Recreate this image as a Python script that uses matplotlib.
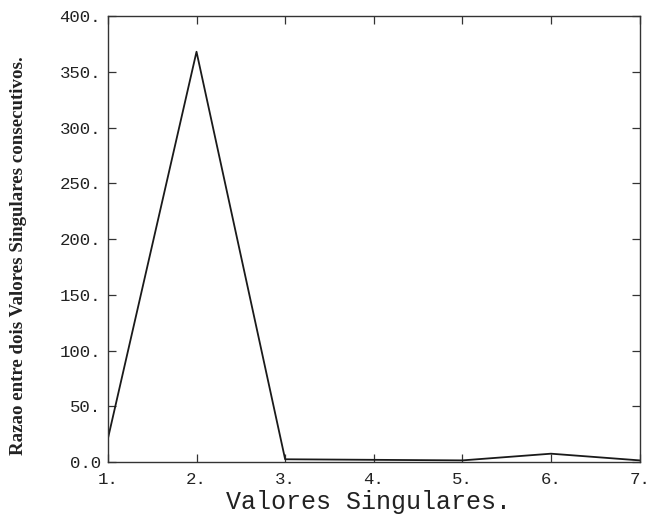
import matplotlib
matplotlib.use("Agg")
import matplotlib.pyplot as plt

# Ratio between consecutive singular values
indices = [1, 2, 3, 4, 5, 6, 7]
ratios = [21.0, 368.0, 2.5, 2.0, 1.5, 7.5, 1.5]

x_ticks = [1, 2, 3, 4, 5, 6, 7]
x_tick_labels = ["1.", "2.", "3.", "4.", "5.", "6.", "7."]
y_ticks = [0, 50, 100, 150, 200, 250, 300, 350, 400]
y_tick_labels = ["0.0", "50.", "100.", "150.", "200.", "250.", "300.", "350.", "400."]

fig = plt.figure(figsize=(6.5, 5.18), dpi=100)
ax = fig.add_axes([0.166, 0.108, 0.818, 0.861])

ax.plot(indices, ratios, color="#1a1a1a", linewidth=1.3)

ax.set_xlim(1, 7)
ax.set_ylim(0, 400)
ax.set_xticks(x_ticks)
ax.set_xticklabels(x_tick_labels, fontfamily="Liberation Mono", fontsize=12.5, color="#222222")
ax.set_yticks(y_ticks)
ax.set_yticklabels(y_tick_labels, fontfamily="Liberation Mono", fontsize=12.5, color="#222222")

ax.tick_params(direction="in", length=6, width=0.9, color="#333333",
               top=True, right=True)
ax.tick_params(axis="x", pad=7)
ax.tick_params(axis="y", pad=5)

for s in ax.spines.values():
    s.set_linewidth(1.0)
    s.set_color("#333333")

ax.set_xlabel("Valores Singulares.", fontfamily="Liberation Mono", fontsize=18,
              color="#222222", labelpad=4)
ax.xaxis.set_label_coords(0.49, -0.062)
ax.set_ylabel("Razao entre dois Valores Singulares consecutivos.",
              fontfamily="Liberation Serif", fontweight="bold", fontsize=13.6,
              color="#222222")
ax.yaxis.set_label_coords(-0.153, 0.462)

fig.savefig("out.png", dpi=100)
